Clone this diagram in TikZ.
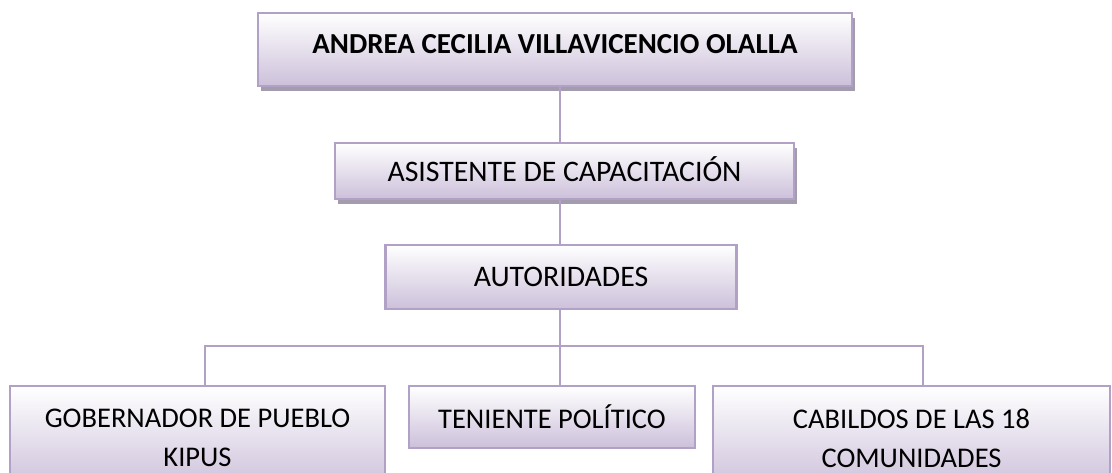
\documentclass[tikz,border=0pt]{standalone}
\usepackage{fontspec}
\setmainfont{Carlito}
\usepackage{xcolor}
\usepackage{tikz}
\usetikzlibrary{positioning, shadows}

\definecolor{lavline}{RGB}{178,161,199}
\definecolor{lavbot}{RGB}{204,192,218}
\definecolor{shadowgray}{RGB}{163,156,172}

\begin{document}
\begin{tikzpicture}[
    x=1pt, y=-1pt,
    box/.style={draw=lavline, line width=2pt, top color=white, bottom color=lavbot,
                align=center, inner sep=0pt,
                font=\fontsize{28.5}{39}\selectfont},
    shbox/.style={box, drop shadow={shadow xshift=3pt, shadow yshift=-5pt,
                  fill=shadowgray, opacity=1}},
    conn/.style={draw=lavline, line width=2pt},
]
\useasboundingbox (0,0) rectangle (1112,473);

%% ── Top: name ────────────────────────────────────────────────────────────
\node[shbox, minimum width=594pt, minimum height=73pt, text depth=11pt,
      font=\fontsize{29}{39}\selectfont\bfseries]
      (name) at (555, 49.5) {ANDREA CECILIA VILLAVICENCIO OLALLA};

%% ── Middle levels ────────────────────────────────────────────────────────
\node[shbox, minimum width=459pt, minimum height=56pt, text depth=4pt,
      font=\fontsize{29.8}{39}\selectfont]
      (asist) at (564.5, 171) {ASISTENTE DE CAPACITACIÓN};
\node[box, line width=2.5pt, minimum width=351pt, minimum height=64pt,
      font=\fontsize{29.8}{39}\selectfont]
      (autor) at (561, 277) {AUTORIDADES};

%% ── Bottom row ───────────────────────────────────────────────────────────
\node[box, minimum width=375pt, minimum height=104pt]
      (gob) at (197.5, 438) {GOBERNADOR DE PUEBLO\\KIPUS};
\node[box, minimum width=286pt, minimum height=62pt]
      (ten) at (552, 417) {TENIENTE POLÍTICO};
\node[box, minimum width=397pt, minimum height=104pt]
      (cab) at (911.5, 438) {CABILDOS DE LAS 18\\COMUNIDADES};

%% ── Connectors ───────────────────────────────────────────────────────────
\coordinate (spine) at (560, 0);
\coordinate (bus) at (560, 346);
\draw[conn] (name.south -| spine) -- (asist.north -| spine);
\draw[conn] (asist.south -| spine) -- (autor.north -| spine);
\draw[conn] (autor.south -| spine) -- (bus);
\draw[conn] ([xshift=7.5pt]gob.north) |- (bus) -| ([xshift=11.5pt]cab.north);
\draw[conn] (bus) -- (ten.north -| bus);

\end{tikzpicture}
\end{document}
